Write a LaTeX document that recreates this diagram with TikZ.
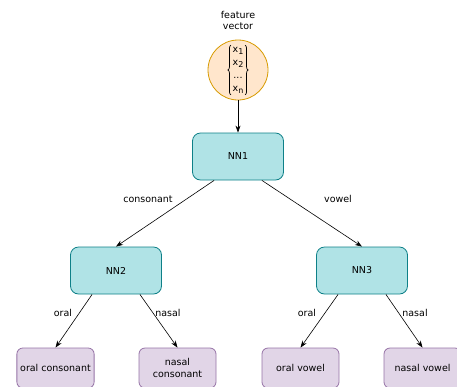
\documentclass[tikz,border=0pt]{standalone}
\usepackage{fontspec}
\setmainfont{DejaVu Sans}
\usetikzlibrary{arrows.meta,decorations.pathreplacing}

\definecolor{nnfill}{HTML}{B0E3E6}
\definecolor{nnline}{HTML}{0E8088}
\definecolor{leaffill}{HTML}{E1D5E7}
\definecolor{leafline}{HTML}{9673A6}
\definecolor{vecfill}{HTML}{FFE6CC}
\definecolor{vecline}{HTML}{D79B00}

\newcommand{\xsub}[1]{x\raisebox{-2pt}{\fontsize{8}{8}\selectfont #1}}

\begin{document}
\begin{tikzpicture}[
    x=1pt, y=-1pt,
    font=\fontsize{9.5}{11.5}\selectfont,
    nn/.style={rectangle, rounded corners=8pt, draw=nnline, fill=nnfill, line width=0.8pt, minimum width=91pt, minimum height=47pt},
    leaf/.style={rectangle, rounded corners=6pt, draw=leafline, fill=leaffill, line width=0.8pt, minimum width=77pt, minimum height=40pt, align=center},
    vec/.style={circle, draw=vecline, fill=vecfill, line width=0.8pt, minimum size=60pt, inner sep=0pt},
    lbl/.style={inner sep=1pt},
    vbrace/.style={decorate, decoration={brace, amplitude=3pt}, line width=0.7pt},
    arrow/.style={-{Stealth[length=7pt, width=5pt]}, line width=0.6pt}
]
\useasboundingbox (0,0) rectangle (457,386);

% Input: feature vector
\node[lbl, align=center] (title) at (238,20.5) {feature\\vector};
\node[vec] (fv) at (238,70) {};
\node[inner sep=1.5pt, align=center, font=\fontsize{9.5}{13}\selectfont] (vecbody) at (238,70) {\xsub{1}\\\xsub{2}\\...\\\xsub{n}};
\draw[vbrace] (vecbody.south west) -- (vecbody.north west);
\draw[vbrace] (vecbody.north east) -- (vecbody.south east);

% Classifiers
\node[nn] (nn1) at (238,156.5) {NN1};
\node[nn] (nn2) at (116,270.5) {NN2};
\node[nn] (nn3) at (362,270.5) {NN3};

% Output classes
\node[leaf] (oralc) at (55.5,368) {oral consonant};
\node[leaf] (nasalc) at (177.5,368) {nasal\\consonant};
\node[leaf] (oralv) at (300.5,368) {oral vowel};
\node[leaf] (nasalv) at (422.5,368) {nasal vowel};

% Branch labels
\node[lbl] (l_cons) at (148,199) {consonant};
\node[lbl] (l_vow) at (338,199) {vowel};
\node[lbl] (l_oral2) at (63,313) {oral};
\node[lbl] (l_nasal2) at (168,313) {nasal};
\node[lbl] (l_oral3) at (307,313) {oral};
\node[lbl] (l_nasal3) at (415,313) {nasal};

% Connections
\draw[arrow] (fv) -- (nn1);
\draw[arrow] (nn1.-135) -- (nn2.north);
\draw[arrow] (nn1.-45) -- (nn3.north);
\draw[arrow] (nn2.-135) -- (oralc.north);
\draw[arrow] (nn2.-45) -- (nasalc.north);
\draw[arrow] (nn3.-135) -- (oralv.north);
\draw[arrow] (nn3.-45) -- (nasalv.north);

\end{tikzpicture}
\end{document}
